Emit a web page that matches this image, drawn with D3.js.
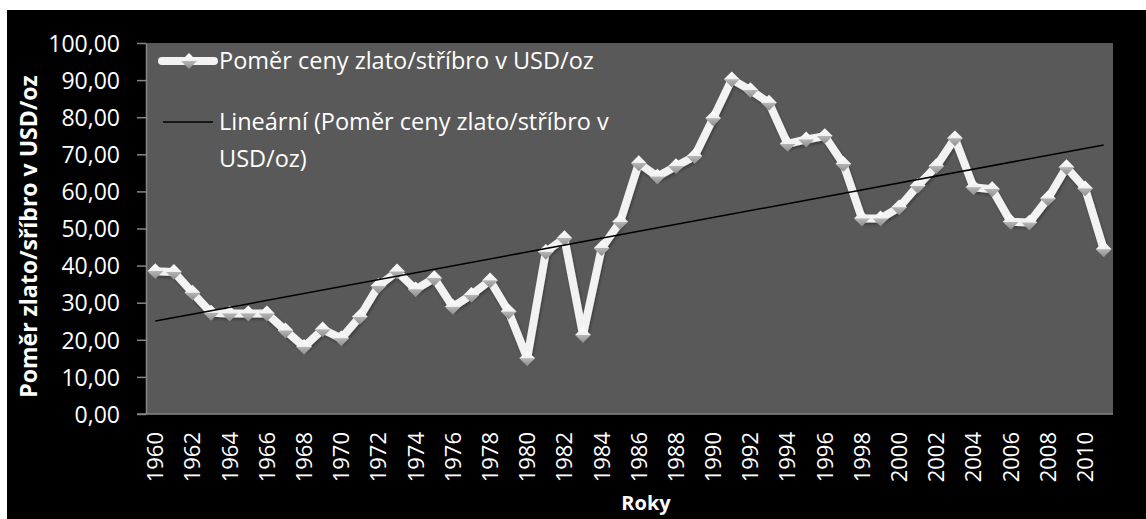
<!DOCTYPE html>
<meta charset="utf-8">
<style>
body { margin: 0; background: #fff; }
text { font-family: "Open Sans", sans-serif; fill: #fff; }
.tick-label { font-size: 23px; }
.year-label { font-size: 22px; }
.legend-label { font-size: 23.5px; }
.title { font-weight: bold; font-size: 20px; }
.axis-line { stroke: #868686; stroke-width: 1.5px; fill: none; }
</style>
<svg width="1146" height="519"></svg>
<script src="https://cdn.jsdelivr.net/npm/d3@7"></script>
<script>

var years = d3.range(1960, 2012);
var ratio = [38.5, 38.3, 32.7, 27.3, 27.1, 27.1, 27.1, 22.5, 18.1, 22.8,
             20.4, 26.2, 34.5, 38.4, 33.6, 36.6, 28.9, 32.1, 36.0, 27.6,
             15.0, 43.7, 47.4, 21.3, 44.7, 51.8, 67.6, 64.0, 66.8, 69.5,
             79.7, 90.2, 87.3, 83.9, 72.8, 74.0, 74.9, 67.4, 52.7, 52.7,
             55.7, 61.5, 66.8, 74.3, 61.1, 60.6, 51.8, 51.6, 58.1, 66.5,
             60.8, 44.4];
var yTicks = [0, 10, 20, 30, 40, 50, 60, 70, 80, 90, 100];
var seriesName = "Poměr ceny zlato/stříbro v USD/oz";
var trendName = ["Lineární (Poměr ceny zlato/stříbro v", "USD/oz)"];

var svg = d3.select("svg");

// black chart area
svg.append("rect").attr("x", 7).attr("y", 10).attr("width", 1139).attr("height", 509).attr("fill", "#000");

var plot = {left: 146, top: 43, right: 1113, bottom: 414};

svg.append("rect")
    .attr("x", plot.left).attr("y", plot.top)
    .attr("width", plot.right - plot.left).attr("height", plot.bottom - plot.top)
    .attr("fill", "#595959");

var x = d3.scaleBand().domain(years).range([plot.left, plot.right]).padding(0);
var y = d3.scaleLinear().domain([0, 100]).range([plot.bottom, plot.top]);
var cx = function(yr) { return x(yr) + x.bandwidth() / 2; };

var fmt = function(v) { return d3.format(".2f")(v).replace(".", ","); };

// y axis
var yAxis = svg.append("g").attr("transform", "translate(" + plot.left + ",0)")
    .call(d3.axisLeft(y).tickValues(yTicks).tickSize(9).tickSizeOuter(0).tickFormat(fmt).tickPadding(17));
yAxis.select(".domain").attr("class", "axis-line");
yAxis.selectAll(".tick line").attr("stroke", "#868686").attr("stroke-width", 1.5);
yAxis.selectAll(".tick text").attr("class", "tick-label").attr("fill", "#fff")
    .attr("font-family", null).attr("font-size", null).attr("dy", "0.36em");

// x axis
var xAxis = svg.append("g").attr("transform", "translate(0," + plot.bottom + ")")
    .call(d3.axisBottom(x).tickValues(years.filter(function(d) { return d % 2 === 0; })).tickSize(0).tickSizeOuter(0));
xAxis.select(".domain").remove();
xAxis.selectAll(".tick text").attr("class", "year-label").attr("fill", "#fff")
    .attr("font-family", null).attr("font-size", null)
    .attr("transform", "rotate(-90)")
    .attr("x", -18).attr("y", 0).attr("dy", "0.36em")
    .style("text-anchor", "end");
svg.append("line").attr("class", "axis-line")
    .attr("x1", plot.left - 9).attr("x2", plot.right)
    .attr("y1", plot.bottom).attr("y2", plot.bottom);

// gradient for the diamond markers
var defs = svg.append("defs");
var grad = defs.append("linearGradient").attr("id", "dia").attr("x1", 0).attr("y1", 0).attr("x2", 0).attr("y2", 1);
grad.append("stop").attr("offset", "0%").attr("stop-color", "#ffffff");
grad.append("stop").attr("offset", "48%").attr("stop-color", "#f0f0f0");
grad.append("stop").attr("offset", "52%").attr("stop-color", "#b4b4b4");
grad.append("stop").attr("offset", "100%").attr("stop-color", "#8c8c8c");
var shadow = defs.append("filter").attr("id", "shd").attr("x", "-20%").attr("y", "-20%").attr("width", "140%").attr("height", "140%");
shadow.append("feDropShadow").attr("dx", 1).attr("dy", 2).attr("stdDeviation", 1.5).attr("flood-color", "#000").attr("flood-opacity", 0.35);

var data = years.map(function(yr, i) { return {year: yr, value: ratio[i]}; });

var line = d3.line().x(function(d) { return cx(d.year); }).y(function(d) { return y(d.value); });

svg.append("path").datum(data)
    .attr("d", line)
    .attr("fill", "none").attr("stroke", "#f2f2f2").attr("stroke-width", 8)
    .attr("stroke-linejoin", "round")
    .attr("filter", "url(#shd)");

var diamond = d3.symbol().type(d3.symbolDiamond2).size(160);

svg.selectAll(".mark").data(data).enter().append("path")
    .attr("class", "mark")
    .attr("d", diamond)
    .attr("transform", function(d) { return "translate(" + cx(d.year) + "," + y(d.value) + ")"; })
    .attr("fill", "url(#dia)");

// linear trend (least squares on the category index)
var n = ratio.length;
var mx = d3.mean(d3.range(n)), my = d3.mean(ratio);
var sxy = d3.sum(ratio, function(v, i) { return (i - mx) * (v - my); });
var sxx = d3.sum(d3.range(n), function(i) { return (i - mx) * (i - mx); });
var slope = sxy / sxx, icpt = my - slope * mx;

svg.append("line")
    .attr("x1", cx(years[0])).attr("y1", y(icpt))
    .attr("x2", cx(years[n - 1])).attr("y2", y(icpt + slope * (n - 1)))
    .attr("stroke", "#000").attr("stroke-width", 1.5);

// legend
var lg = svg.append("g");
lg.append("line").attr("x1", 162).attr("x2", 214).attr("y1", 61).attr("y2", 61)
    .attr("stroke", "#f2f2f2").attr("stroke-width", 8).attr("stroke-linecap", "round");
lg.append("path").attr("d", diamond).attr("transform", "translate(189,61)").attr("fill", "url(#dia)");
lg.append("text").attr("class", "legend-label").attr("x", 219).attr("y", 61).attr("dy", "0.36em").text(seriesName);

lg.append("line").attr("x1", 163).attr("x2", 213).attr("y1", 122).attr("y2", 122)
    .attr("stroke", "#000").attr("stroke-width", 1.5);
lg.selectAll(".trend-label").data(trendName).enter().append("text")
    .attr("class", "legend-label")
    .attr("x", 219).attr("y", function(d, i) { return 122 + i * 37; }).attr("dy", "0.36em")
    .text(function(d) { return d; });

// titles
svg.append("text").attr("class", "title")
    .style("font-size", "23px")
    .attr("transform", "translate(37," + ((plot.top + plot.bottom) / 2 + 8) + ") rotate(-90)")
    .style("text-anchor", "middle")
    .text("Poměr zlato/sříbro v USD/oz");

svg.append("text").attr("class", "title")
    .attr("x", 646).attr("y", 510)
    .style("text-anchor", "middle")
    .text("Roky");

</script>
